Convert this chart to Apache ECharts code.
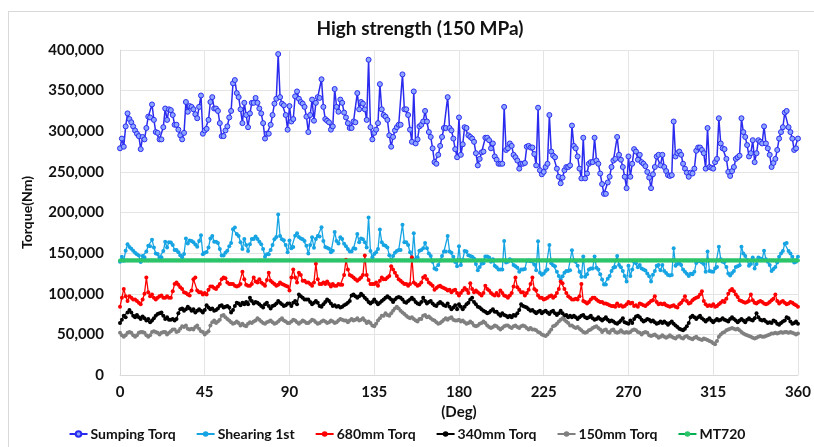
<!DOCTYPE html>
<html>
<head>
<meta charset="utf-8">
<script src="https://cdn.jsdelivr.net/npm/echarts@6/dist/echarts.min.js"></script>
<style>
html,body{margin:0;padding:0;background:#fff;overflow:hidden;}
#frame{position:absolute;left:8px;top:11px;width:830px;height:460px;border:1px solid #d9d9d9;box-sizing:border-box;}
#chart{position:absolute;left:0;top:0;width:814px;height:447px;}
</style>
</head>
<body>
<div id="frame"></div>
<div id="chart"></div>
<script>
// Torque values in thousands of Nm, one value per degree (0..360)
const sumpingTorqK = [
279,291,281,306,322,315,311,306,301,297,
294,278,293,290,304,318,317,333,314,299,
298,290,290,305,328,314,327,326,320,308,
308,302,295,290,298,336,324,331,330,327,
321,316,330,344,297,301,303,314,336,342,
328,328,325,310,294,294,301,306,317,325,
359,363,347,342,327,310,335,320,305,322,
335,335,341,335,328,322,310,291,297,297,
308,320,334,340,395,342,334,332,320,302,
331,312,315,343,349,340,336,334,330,318,
299,320,339,313,335,342,341,364,330,315,
313,311,302,306,352,330,324,339,335,323,
317,310,304,304,312,311,347,327,336,334,
327,314,388,305,290,298,302,310,358,327,
320,318,314,295,281,293,301,305,308,308,
370,327,327,320,302,287,349,285,290,306,
308,312,325,312,299,293,279,262,260,271,
282,293,304,304,342,304,301,291,278,268,
317,271,284,305,304,295,293,291,287,273,
258,266,274,275,292,292,289,279,285,269,
265,260,260,260,330,277,279,285,282,271,
268,264,254,260,260,261,281,282,280,280,
272,258,329,252,247,250,256,260,320,275,
270,268,254,244,236,243,252,256,256,258,
307,282,279,269,254,242,292,242,248,260,
262,262,292,264,260,248,235,223,223,237,
244,256,264,266,293,271,265,256,244,230,
269,244,260,278,275,265,271,262,260,257,
250,243,230,247,256,269,271,258,271,256,
251,246,245,246,312,269,273,275,271,260,
254,249,244,249,248,254,276,280,280,277,
273,254,304,256,255,254,262,266,316,285,
279,278,266,250,245,251,256,266,268,270,
316,299,293,283,269,273,289,262,273,289,
287,285,306,285,279,271,256,261,266,277,
291,299,305,323,325,305,299,291,277,279,
291
];
const shearing1stK = [
139.5,145.5,140.5,153,161,157.5,155.5,153,150.5,148.5,
147,139,146.5,145,152,159,158.5,166.5,157,149.5,
149,145,145,152.5,164,157,163.5,163,160,154,
154,151,147.5,145,149,168,162,165.5,165,163.5,
160.5,158,165,172,148.5,150.5,151.5,157,168,171,
164,164,162.5,155,147,147,150.5,153,158.5,162.5,
179.5,181.5,173.5,171,163.5,155,167.5,160,152.5,161,
167.5,167.5,170.5,167.5,164,161,155,145.5,148.5,148.5,
154,160,167,170,197.5,171,167,166,160,151,
165.5,156,157.5,171.5,174.5,170,168,167,165,159,
149.5,160,169.5,156.5,167.5,171,170.5,182,165,157.5,
156.5,155.5,151,153,176,165,162,169.5,167.5,161.5,
158.5,155,152,152,156,155.5,173.5,163.5,168,167,
163.5,157,194,152.5,145,149,151,155,179,163.5,
160,159,157,147.5,140.5,146.5,150.5,152.5,154,154,
185,163.5,163.5,160,151,143.5,174.5,142.5,145,153,
154,156,162.5,156,149.5,146.5,139.5,131,130,135.5,
141,146.5,152,152,171,152,150.5,145.5,139,134,
158.5,135.5,142,152.5,152,147.5,146.5,145.5,143.5,136.5,
129,133,137,137.5,146,146,144.5,139.5,142.5,134.5,
132.5,130,130,130,165,138.5,139.5,142.5,141,135.5,
134,132,127,130,130,130.5,140.5,141,140,140,
136,129,164.5,126,123.5,125,128,130,160,137.5,
135,134,127,122,118,121.5,126,128,128,129,
153.5,141,139.5,134.5,127,121,146,121,124,130,
131,131,146,132,130,124,117.5,111.5,111.5,118.5,
122,128,132,133,146.5,135.5,132.5,128,122,115,
134.5,122,130,139,137.5,132.5,135.5,131,130,128.5,
125,121.5,115,123.5,128,134.5,135.5,129,135.5,128,
125.5,123,122.5,123,156,134.5,136.5,137.5,135.5,130,
127,124.5,122,124.5,124,127,138,140,140,138.5,
136.5,127,152,128,127.5,127,131,133,158,142.5,
139.5,139,133,125,122.5,125.5,128,133,134,135,
158,149.5,146.5,141.5,134.5,136.5,144.5,131,136.5,144.5,
143.5,142.5,153,142.5,139.5,135.5,128,130.5,133,138.5,
145.5,149.5,152.5,161.5,162.5,152.5,149.5,145.5,138.5,139.5,
145.5
];
const torq680mmK = [
84,95,106,97,91,97,95,93,93,91,
89,87,93,100,120,102,97,99,95,93,
95,97,98,95,95,97,95,95,103,112,
114,111,108,106,102,101,99,98,104,118,
120,104,102,102,99,101,99,105,109,109,
107,106,109,112,118,120,119,114,112,112,
112,110,109,110,112,127,118,111,110,110,
112,120,115,114,118,114,112,110,117,126,
116,114,112,110,111,114,112,111,110,109,
104,120,130,120,114,126,123,116,116,114,
114,112,110,114,137,118,112,112,114,112,
115,112,109,112,110,110,112,111,111,123,
142,130,123,122,120,118,116,118,120,123,
147,123,117,112,112,112,114,110,116,120,
118,118,120,122,134,130,126,122,118,116,
114,112,112,110,112,145,114,112,110,111,
114,120,122,118,114,112,110,105,107,109,
110,108,107,106,104,105,102,104,105,101,
98,101,104,107,105,101,113,106,102,104,
102,100,98,101,110,106,104,101,99,98,
101,98,104,101,98,97,95,98,101,109,
120,108,105,102,102,98,101,105,112,120,
106,104,98,95,95,93,94,95,97,98,
95,97,101,106,115,113,106,101,97,95,
93,93,94,93,97,112,91,90,88,90,
93,95,95,93,91,90,90,88,88,87,
86,85,85,84,88,85,86,84,85,87,
90,88,89,85,86,84,88,87,86,85,
87,89,91,92,97,90,87,88,87,88,
86,85,84,85,86,84,83,87,89,92,
97,91,88,89,92,94,95,96,99,103,
91,87,85,86,85,87,84,85,87,89,
91,90,94,100,104,106,103,99,96,92,
91,90,89,90,91,99,92,89,88,90,
91,90,88,87,88,90,92,94,99,91,
88,90,91,89,87,88,90,89,87,86,
84
];
const torq340mmK = [
64,68,73,71,77,80,77,73,71,74,
71,69,72,70,67,69,65,67,70,73,
75,76,77,73,69,71,68,68,69,67,
69,76,81,82,79,81,84,82,79,81,
77,79,81,79,77,80,86,83,81,82,
79,80,82,85,86,83,84,85,83,77,
80,85,89,88,86,89,87,90,87,95,
91,88,90,89,87,85,83,87,89,85,
82,85,86,88,91,89,87,85,86,88,
88,85,89,91,87,99,97,95,93,93,
93,90,87,89,91,89,85,84,87,90,
93,91,88,85,86,84,85,83,84,86,
87,89,91,98,99,97,95,97,100,98,
95,93,90,88,90,93,90,87,89,91,
93,95,97,95,93,90,93,95,96,95,
93,90,89,91,93,95,93,90,88,87,
90,95,91,88,90,91,88,86,85,88,
90,88,86,85,88,84,81,83,86,81,
87,84,81,84,87,89,93,95,90,87,
84,83,81,79,78,76,77,79,81,78,
78,75,73,76,74,73,71,73,71,74,
73,76,80,87,85,84,83,81,79,80,
78,76,78,79,76,78,79,77,75,78,
79,76,74,76,79,76,73,74,71,73,
71,73,71,69,71,73,74,71,70,71,
73,70,68,69,71,69,67,69,71,68,
66,67,66,64,63,65,67,70,65,64,
63,67,64,69,72,73,71,68,66,67,
69,68,66,67,65,63,64,66,64,66,
64,62,64,66,63,61,59,57,56,55,
57,60,64,71,73,71,69,71,73,70,
68,66,68,70,67,65,67,69,67,68,
70,68,67,66,69,71,69,67,65,67,
69,67,65,68,70,68,67,70,76,71,
68,67,68,66,64,65,64,67,66,63,
62,64,66,67,71,70,66,63,64,66,
63
];
const torq150mmK = [
52,49,47,49,52,53,52,49,47,49,
52,53,53,52,49,47,49,53,54,53,
52,50,52,53,53,50,52,54,56,56,
53,54,57,60,59,61,57,56,57,56,
59,61,57,54,53,50,52,54,61,65,
67,64,66,68,73,74,71,69,67,65,
63,64,66,64,61,63,61,60,63,65,
64,66,67,70,68,66,64,63,65,66,
67,65,63,64,66,68,70,67,66,64,
64,66,68,67,65,63,65,67,66,64,
64,66,68,67,65,63,64,66,67,66,
64,65,67,66,64,65,67,69,68,67,
67,65,67,69,67,68,70,67,68,70,
67,64,66,64,61,60,63,67,70,73,
73,76,74,73,76,79,82,84,82,79,
77,75,73,71,70,71,69,67,66,69,
69,73,74,71,72,70,68,67,65,63,
64,66,68,70,68,70,71,68,67,67,
68,66,67,65,63,64,66,64,61,60,
61,63,64,66,64,61,59,58,59,61,
60,58,56,58,60,61,61,59,58,60,
61,59,58,60,61,60,58,56,58,56,
56,55,53,52,50,49,48,50,53,56,
60,61,63,66,68,70,68,66,64,61,
61,59,58,59,57,55,53,52,53,55,
56,58,59,60,58,56,53,55,56,53,
52,55,56,53,52,53,55,53,52,53,
52,53,55,56,55,53,52,50,52,53,
52,49,48,49,50,48,46,47,49,47,
46,47,49,47,46,45,47,48,46,45,
47,48,46,45,44,46,47,45,44,43,
45,44,43,42,41,39,38,42,47,50,
52,53,55,56,57,58,57,56,57,55,
53,51,50,49,48,47,46,45,46,47,
48,47,47,48,49,50,51,51,52,51,
52,53,52,53,53,52,53,52,51,50,
51
];
const mt720K = [
141,141,141,141,141,141,141,141,141,141,141,141,141,141,141,141,141,141,141,
141,141,141,141,141,141,141,141,141,141,141,141,141,141,141,141,141,141,141,
141,141,141,141,141,141,141,141,141,141,141,141,141,141,141,141,141,141,141,
141,141,141,141,141,141,141,141,141,141,141,141,141,141,141,141,141,141,141,
141,141,141,141,141,141,141,141,141,141,141,141,141,141,141,141,141,141,141,
141,141,141,141,141,141,141,141,141,141,141,141,141,141,141,141,141,141,141,
141,141,141,141,141,141,141,141,141,141,141,141,141,141,141,141,141,141,141,
141,141,141,141,141,141,141,141,141,141,141,141,141,141,141,141,141,141,141,
141,141,141,141,141,141,141,141,141,141,141,141,141,141,141,141,141,141,141,
141,141,141,141,141,141,141,141,141,141,141,141,141,141,141,141,141,141,141,
141,141,141,141,141,141,141,141,141,141,141,141,141,141,141,141,141,141,141,
141,141,141,141,141,141,141,141,141,141,141,141,141,141,141,141,141,141,141,
141,141,141,141,141,141,141,141,141,141,141,141,141,141,141,141,141,141,141,
141,141,141,141,141,141,141,141,141,141,141,141,141,141,141,141,141,141,141,
141,141,141,141,141,141,141,141,141,141,141,141,141,141,141,141,141,141,141,
141,141,141,141,141,141,141,141,141,141,141,141,141,141,141,141,141,141,141,
141,141,141,141,141,141,141,141,141,141,141,141,141,141,141,141,141,141,141,
141,141,141,141,141,141,141,141,141,141,141,141,141,141,141,141,141,141,141,
141,141,141,141,141,141,141,141,141,141,141,141,141,141,141,141,141,141,141
];
const seriesNames = ['Sumping Torq','Shearing 1st','680mm Torq','340mm Torq','150mm Torq','MT720'];
const xTicks = [0,45,90,135,180,225,270,315,360];
const yTicks = [0,50000,100000,150000,200000,250000,300000,350000,400000];

const FONT = 'Lato, "Open Sans", "DejaVu Sans", sans-serif';
function pairs(arrK){ return arrK.map(function(v,i){ return [i, v*1000]; }); }

const styles = [
  {data: sumpingTorqK, color:'#2B2BEF', fill:'#8CA6FF', size:5, width:1.5, border:1},
  {data: shearing1stK, color:'#17A4E3', fill:'#17A4E3', size:4, width:1.3, border:0},
  {data: torq680mmK,   color:'#FF0000', fill:'#FF0000', size:4, width:1.3, border:0},
  {data: torq340mmK,   color:'#000000', fill:'#000000', size:4, width:1.3, border:0},
  {data: torq150mmK,   color:'#808080', fill:'#808080', size:4, width:1.3, border:0},
  {data: mt720K,       color:'#00B050', fill:'#2CC56A', size:4, width:3.8, border:0}
];

const chart = echarts.init(document.getElementById('chart'), null, {renderer:'canvas'});
chart.setOption({
  animation:false,
  backgroundColor:'transparent',
  title:{
    text:'High strength (150 MPa)', left:420, top:19, textAlign:'center', padding:0,
    textStyle:{fontFamily:FONT, fontWeight:'bold', fontSize:19, color:'#111'}
  },
  grid:{left:120, right:4, top:50, bottom:72},
  xAxis:{
    type:'value', min:xTicks[0], max:xTicks[xTicks.length-1], interval:45,
    name:'(Deg)', nameLocation:'middle', nameGap:29,
    nameTextStyle:{fontFamily:FONT, fontWeight:'bold', fontSize:15, color:'#111'},
    axisLine:{lineStyle:{color:'#d9d9d9', width:1}},
    axisTick:{show:false},
    axisLabel:{fontFamily:FONT, fontWeight:'bold', fontSize:15, color:'#111', margin:10},
    splitLine:{show:true, lineStyle:{color:'#e4e4e4', width:1}}
  },
  yAxis:{
    type:'value', min:yTicks[0], max:yTicks[yTicks.length-1], interval:50000,
    name:'Torque(Nm)', nameLocation:'middle', nameGap:86, nameRotate:90,
    nameTextStyle:{fontFamily:FONT, fontWeight:'bold', fontSize:14, color:'#111'},
    axisLine:{show:true, lineStyle:{color:'#d9d9d9', width:1}},
    axisTick:{show:false},
    axisLabel:{fontFamily:FONT, fontWeight:'bold', fontSize:15, color:'#111', margin:16,
      formatter:function(v){ return v.toLocaleString('en-US'); }},
    splitLine:{show:true, lineStyle:{color:'#e4e4e4', width:1}}
  },
  legend:{
    top:422, left:'center', itemGap:20, itemWidth:18, itemHeight:7,
    textStyle:{fontFamily:FONT, fontWeight:'bold', fontSize:14, color:'#111', padding:[0,0,0,-2]},
    data:seriesNames
  },
  series: styles.map(function(s, k){
    return {
      name: seriesNames[k], type:'line', data: pairs(s.data),
      symbol:'circle', symbolSize:s.size, showSymbol:true,
      lineStyle:{color:s.color, width:s.width},
      itemStyle:{color:s.fill, borderColor:s.color, borderWidth:s.border},
      emphasis:{disabled:true}
    };
  })
});
</script>
</body>
</html>
